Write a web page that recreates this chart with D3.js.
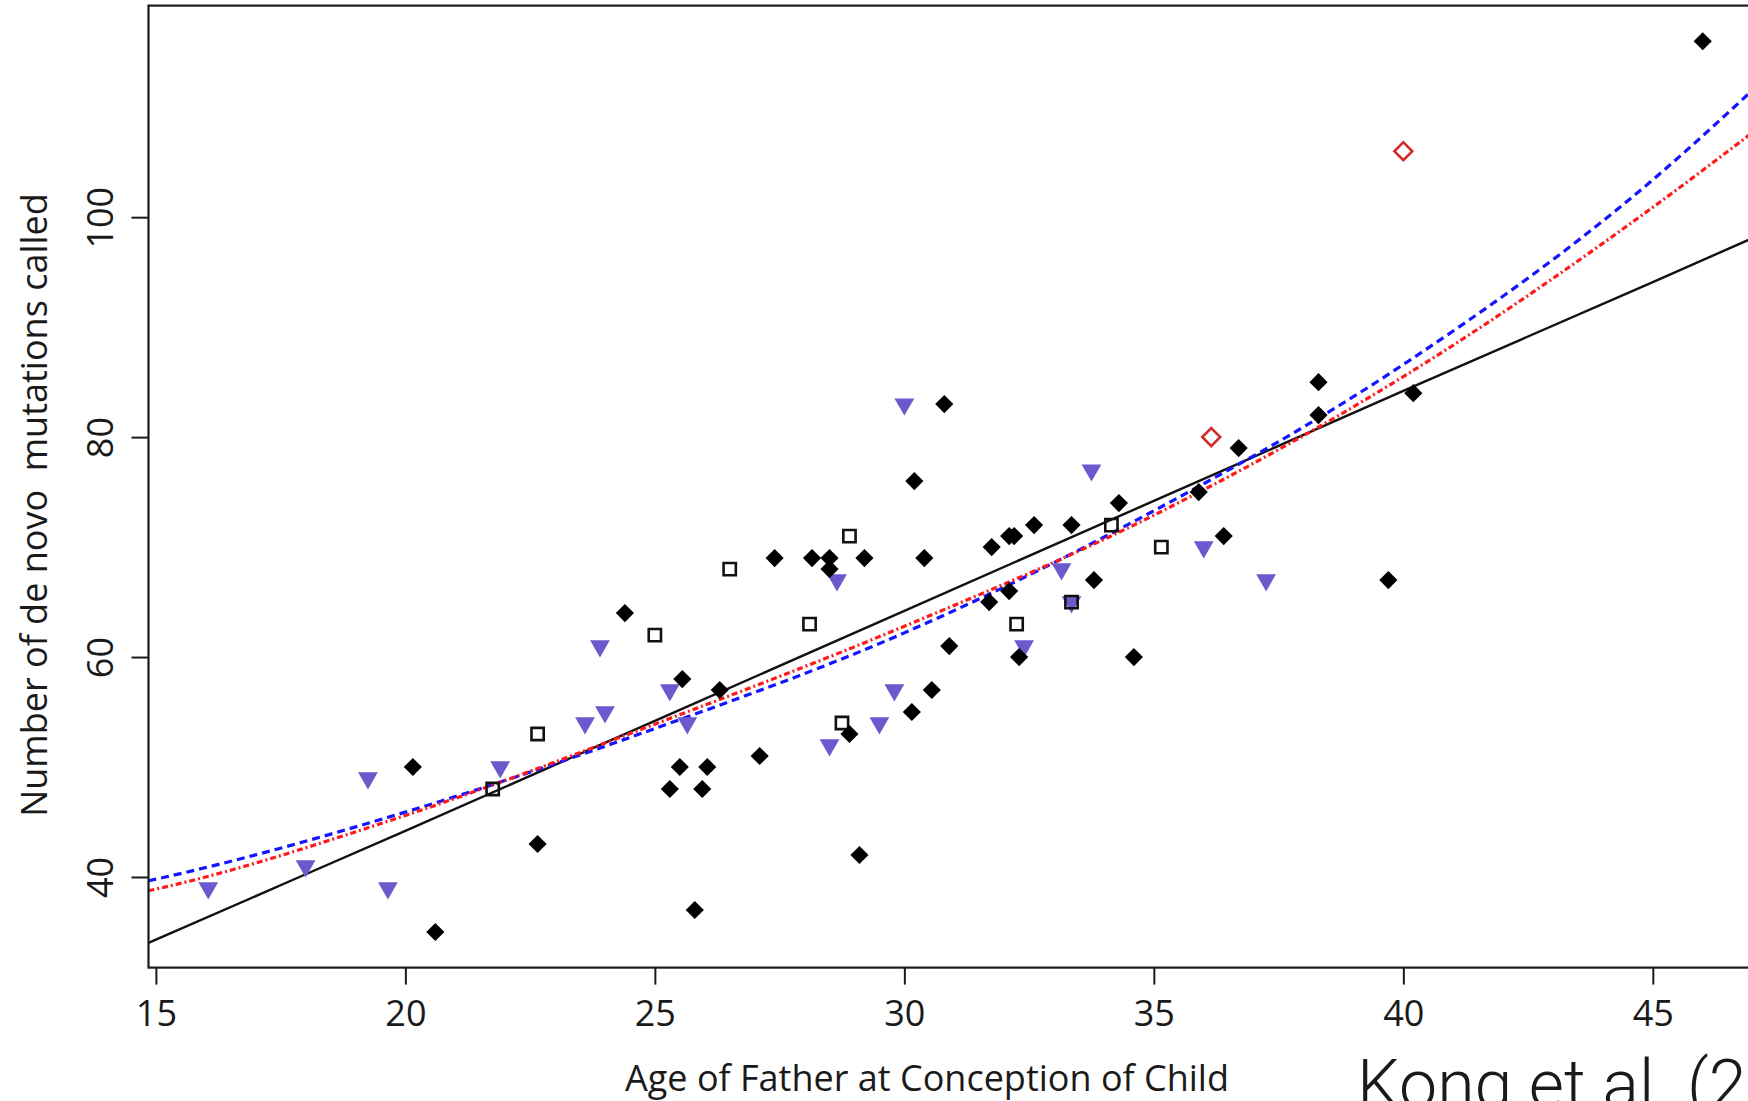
<!DOCTYPE html>
<html>
<head>
<meta charset="utf-8">
<script src="https://cdn.jsdelivr.net/npm/d3@7"></script>
<style>
    body { margin: 0; background: #fff; }
    svg { display: block; }
    text { font-family: "Open Sans", sans-serif; fill: #1a1a1a; }
</style>
</head>
<body>
<div id="chart-container"></div>
<script>
// values (age of father vs. de novo mutations)

// black filled diamonds
const diamondAge = [46.0, 38.3, 38.3, 40.2, 36.7, 35.9, 36.4, 34.3, 33.35, 32.6, 32.1, 32.2, 31.75, 33.8, 32.1, 31.7,
    32.3, 34.6, 39.7, 30.8, 30.2, 30.4, 29.2, 28.5, 28.15, 28.5, 27.4, 24.4, 25.55, 26.3, 30.9, 30.55, 30.15,
    28.9, 27.1, 25.5, 26.05, 25.3, 25.95, 20.15, 22.65, 20.6, 25.8, 29.1];
const diamondCount = [116, 85, 82, 84, 79, 75, 71, 74, 72, 72, 71, 71, 70, 67, 66, 65,
    60, 60, 67, 83, 76, 69, 69, 69, 69, 68, 69, 64, 58, 57, 61, 57, 55,
    53, 51, 50, 50, 48, 48, 50, 43, 35, 37, 42];

// open squares
const squareAge = [21.75, 22.65, 25.0, 26.5, 28.1, 28.9, 28.75, 32.25, 33.35, 34.15, 35.15];
const squareCount = [48, 53, 62, 68, 63, 71, 54, 63, 65, 72, 70];

// purple down triangles
const triangleAge = [16.05, 18.0, 19.25, 19.65, 21.9, 23.9, 23.6, 24.0, 25.3, 25.65, 28.65, 28.5, 30.0, 29.8,
    29.5, 32.4, 33.15, 33.35, 33.75, 36.0, 37.25];
const triangleCount = [39, 41, 49, 39, 50, 61, 54, 55, 57, 54, 67, 52, 83, 57,
    54, 61, 68, 65, 77, 70, 67];

// red open diamonds
const redAge = [36.15, 40.0];
const redCount = [80, 106];

// fitted curves
const fitAge = [14.85, 15, 20, 25, 30, 35, 40, 45, 47.2];
const linearFit = [34.0, 34.3, 44.2, 54.2, 64.2, 74.2, 84.2, 94.1, 98.5];
const blueFit = [39.65, 39.8, 45.9, 53.5, 62.2, 73.3, 86.6, 103.4, 112.4];
const redFit = [38.75, 38.9, 45.6, 53.9, 62.8, 72.9, 85.5, 100.9, 108.4];

const xTicks = [15, 20, 25, 30, 35, 40, 45];
const yTicks = [40, 60, 80, 100];

// chart size
const margin = {top: 5.6, left: 148.5};
const width = 1614;
const height = 962;

const svg = d3.select("#chart-container")
    .append("svg")
        .attr("width", 1748)
        .attr("height", 1101);

// R style: 4% padding around the data range
function padded(values) {
    const [lo, hi] = d3.extent(values);
    const pad = (hi - lo) * 0.04;
    return [lo - pad, hi + pad];
}

const allAge = diamondAge.concat(squareAge, triangleAge, redAge);
const allCount = diamondCount.concat(squareCount, triangleCount, redCount);

const xScale = d3.scaleLinear()
    .domain(padded(allAge))
    .range([margin.left, margin.left + width]);
const yScale = d3.scaleLinear()
    .domain(padded(allCount))
    .range([margin.top + height, margin.top]);

const x0 = xScale.range()[0], x1 = xScale.range()[1];
const yTop = yScale.range()[1], yBot = yScale.range()[0];

svg.append("clipPath")
    .attr("id", "plot-clip")
    .append("rect")
        .attr("x", x0).attr("y", yTop)
        .attr("width", x1 - x0).attr("height", yBot - yTop);

// x axis
const xAxis = svg.append("g")
    .attr("transform", `translate(0, ${yBot})`)
    .call(d3.axisBottom(xScale).tickValues(xTicks).tickSize(17).tickSizeOuter(0));
xAxis.select(".domain").remove();
xAxis.selectAll("line").attr("stroke", "#1a1a1a").attr("stroke-width", 2);
xAxis.selectAll("text")
    .attr("y", 58)
    .attr("dy", 0)
    .style("font-size", "36px")
    .style("fill", "#1a1a1a");

// y axis with rotated labels
const yAxis = svg.append("g")
    .attr("transform", `translate(${x0}, 0)`)
    .call(d3.axisLeft(yScale).tickValues(yTicks).tickSize(17).tickSizeOuter(0));
yAxis.select(".domain").remove();
yAxis.selectAll("line").attr("stroke", "#1a1a1a").attr("stroke-width", 2);
yAxis.selectAll("text")
    .attr("x", null)
    .attr("dy", 0)
    .attr("transform", "translate(-36, 0) rotate(-90)")
    .attr("text-anchor", "middle")
    .style("font-size", "36px")
    .style("fill", "#1a1a1a");

// axis titles
svg.append("text")
    .attr("x", 927)
    .attr("y", 1091)
    .style("text-anchor", "middle")
    .style("font-size", "36px")
    .text("Age of Father at Conception of Child");

svg.append("text")
    .attr("transform", "translate(47, 505) rotate(-90)")
    .style("text-anchor", "middle")
    .style("font-size", "36px")
    .style("white-space", "pre")
    .text("Number of de novo  mutations called");

// fitted lines
const plot = svg.append("g").attr("clip-path", "url(#plot-clip)");

function fitLine(values) {
    return d3.line()
        .x((d, i) => xScale(fitAge[i]))
        .y(d => yScale(d))
        .curve(d3.curveMonotoneX)(values);
}

plot.append("path")
    .attr("d", fitLine(linearFit))
    .attr("fill", "none")
    .attr("stroke", "#111")
    .attr("stroke-width", 2.4);

plot.append("path")
    .attr("d", fitLine(blueFit))
    .attr("fill", "none")
    .attr("stroke", "#1414ff")
    .attr("stroke-width", 3.2)
    .attr("stroke-dasharray", "8,5");

plot.append("path")
    .attr("d", fitLine(redFit))
    .attr("fill", "none")
    .attr("stroke", "#ff1a1a")
    .attr("stroke-width", 3.2)
    .attr("stroke-dasharray", "6,3,2,3");

// points
const diamondSym = d3.symbol().type(d3.symbolSquare).size(165);
const squareSym = d3.symbol().type(d3.symbolSquare).size(150);
const triangleSym = d3.symbol().type(d3.symbolTriangle).size(170);
const redSym = d3.symbol().type(d3.symbolSquare).size(160);

plot.selectAll(".tri")
    .data(triangleAge)
    .join("path")
        .attr("class", "tri")
        .attr("d", triangleSym)
        .attr("transform", (d, i) => `translate(${xScale(d)}, ${yScale(triangleCount[i])}) rotate(180)`)
        .attr("fill", "#6a5acd");

plot.selectAll(".sq")
    .data(squareAge)
    .join("path")
        .attr("class", "sq")
        .attr("d", squareSym)
        .attr("transform", (d, i) => `translate(${xScale(d)}, ${yScale(squareCount[i])})`)
        .attr("fill", "none")
        .attr("stroke", "#111")
        .attr("stroke-width", 2.6);

plot.selectAll(".dia")
    .data(diamondAge)
    .join("path")
        .attr("class", "dia")
        .attr("d", diamondSym)
        .attr("transform", (d, i) => `translate(${xScale(d)}, ${yScale(diamondCount[i])}) rotate(45)`)
        .attr("fill", "#000");

plot.selectAll(".red")
    .data(redAge)
    .join("path")
        .attr("class", "red")
        .attr("d", redSym)
        .attr("transform", (d, i) => `translate(${xScale(d)}, ${yScale(redCount[i])}) rotate(45)`)
        .attr("fill", "none")
        .attr("stroke", "#d42a2a")
        .attr("stroke-width", 2.6);

// plot box
svg.append("rect")
    .attr("x", x0).attr("y", yTop)
    .attr("width", x1 - x0).attr("height", yBot - yTop)
    .attr("fill", "none")
    .attr("stroke", "#1a1a1a")
    .attr("stroke-width", 2.2);

// source note, cut off by the right and bottom edge as in the original
svg.append("text")
    .attr("x", 1357)
    .attr("y", 1108)
    .style("font-family", "Roboto, sans-serif")
    .style("font-weight", 300)
    .style("font-size", "68px")
    .text("Kong et al. (2012)");
</script>
</body>
</html>
